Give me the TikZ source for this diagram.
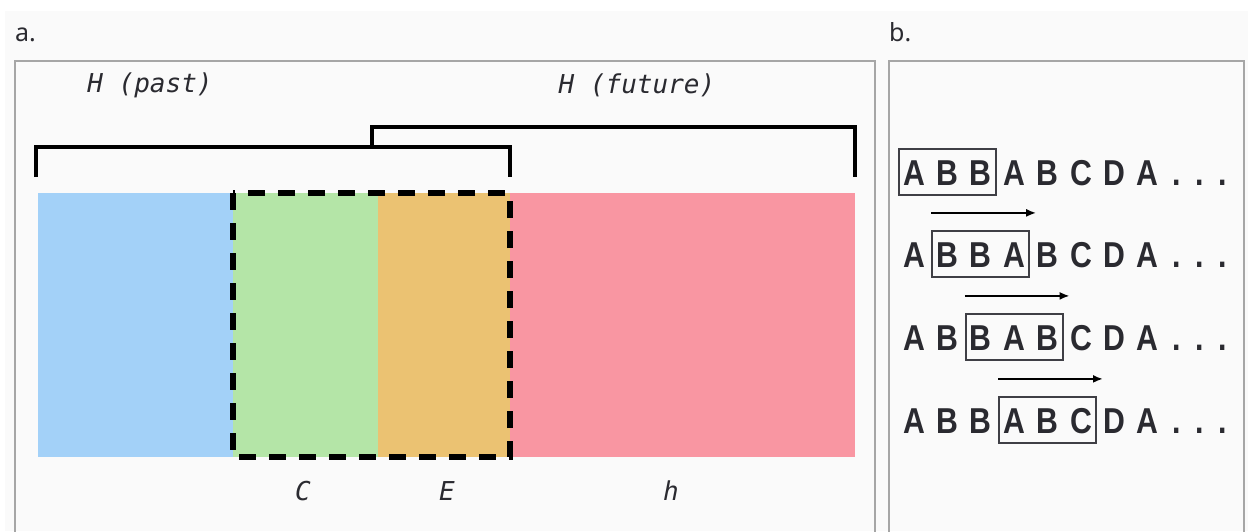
\documentclass[tikz,border=0pt]{standalone}
\usepackage{fontspec}
\setmonofont{DejaVu Sans Mono}
\setsansfont{Noto Sans}
\newfontfamily\seqfont[FakeStretch=0.84]{Liberation Sans}
\usetikzlibrary{arrows.meta, fit}
\definecolor{bggray}{HTML}{FAFAFA}
\definecolor{framegray}{HTML}{A6A6A6}
\definecolor{inkgray}{HTML}{2A2A30}
\definecolor{pastblue}{HTML}{A3D1F8}
\definecolor{ctxgreen}{HTML}{B4E5A7}
\definecolor{embedorange}{HTML}{EBC272}
\definecolor{futurered}{HTML}{F996A2}
\tikzset{%
  >={Latex[width=8pt,length=10pt]},
  % Specifications for style of nodes:
    panellabel/.style = {inner sep=0pt, text=inkgray, font=\sffamily\fontsize{25}{25}\selectfont},
      seglabel/.style = {inner sep=0pt, text=inkgray, font=\ttfamily\itshape\fontsize{26}{26}\selectfont},
        letter/.style = {inner sep=0pt, anchor=base, text=inkgray, text height=26pt, text depth=0pt,
                         font=\seqfont\bfseries\fontsize{36}{36}\selectfont},
     windowbox/.style = {draw=inkgray!90, line width=1.8pt, inner xsep=4pt, inner ysep=10pt},
         frame/.style = {draw=framegray, line width=1.6pt},
       bracket/.style = {draw=black, line width=3.5pt},
        window/.style = {draw=black, line width=5.5pt, dash pattern=on 17pt off 13pt},
         slide/.style = {->, draw=black, line width=2pt},
}
\begin{document}
\begin{tikzpicture}[x=1pt, y=-1pt]
  \useasboundingbox (0,0) rectangle (1248,531);
  \fill[white] (0,0) rectangle (1248,531);
  \fill[bggray] (5,11) rectangle (1248,531);
  % panel frames (open at the bottom)
  \draw[frame] (15,540) |- (875,61) -- (875,540);
  \draw[frame] (889,540) |- (1244,61) -- (1244,540);
  \node[panellabel, anchor=base west] (labA) at (15,41) {a.};
  \node[panellabel, anchor=base west] (labB) at (889,41) {b.};

  % panel a: the sequence split into blocks
  \fill[pastblue]    (38,193)  rectangle (233,457);
  \fill[ctxgreen]    (233,193) rectangle (378,457);
  \fill[embedorange] (378,193) rectangle (510,457);
  \fill[futurered]   (510,193) rectangle (855,457);
  \draw[window] (233,193) rectangle (510,457);

  \coordinate (pastL) at (36,177);
  \coordinate (pastR) at (510,177);
  \coordinate (stem)  at (372,147);
  \coordinate (futR)  at (855,177);
  \draw[bracket] (pastL) |- (pastR |- stem) -- (pastR);
  \draw[bracket] (stem) -- ++(0,-20) -| (futR);

  \node[seglabel] (past)   at (150,85)  {H (past)};
  \node[seglabel] (future) at (637,85)  {H (future)};
  \node[seglabel] (ctx)    at (303,491) {C};
  \node[seglabel] (emb)    at (447,491) {E};
  \node[seglabel] (hid)    at (671,491) {h};

  % panel b: sliding window over the sequence
  \foreach \r/\y in {1/185, 2/267, 3/350, 4/433} {
    \foreach \ch [count=\i] in {A,B,B,A,B,C,D,A}
      \node[letter] (s\r-\i) at ({914+33.4*(\i-1)},\y) {\ch};
    \foreach \d [count=\j] in {1177,1200,1223}
      \node[letter] (dot\r-\j) at (\d,\y) {.};
  }
  \node[windowbox, fit=(s1-1)(s1-3)] (w1) {};
  \node[windowbox, fit=(s2-2)(s2-4)] (w2) {};
  \node[windowbox, fit=(s3-3)(s3-5)] (w3) {};
  \node[windowbox, fit=(s4-4)(s4-6)] (w4) {};
  \foreach \n in {2,3,4}
    \draw[slide] ([yshift=17pt]w\n.north west) -- ([xshift=6pt,yshift=17pt]w\n.north east);
\end{tikzpicture}
\end{document}
